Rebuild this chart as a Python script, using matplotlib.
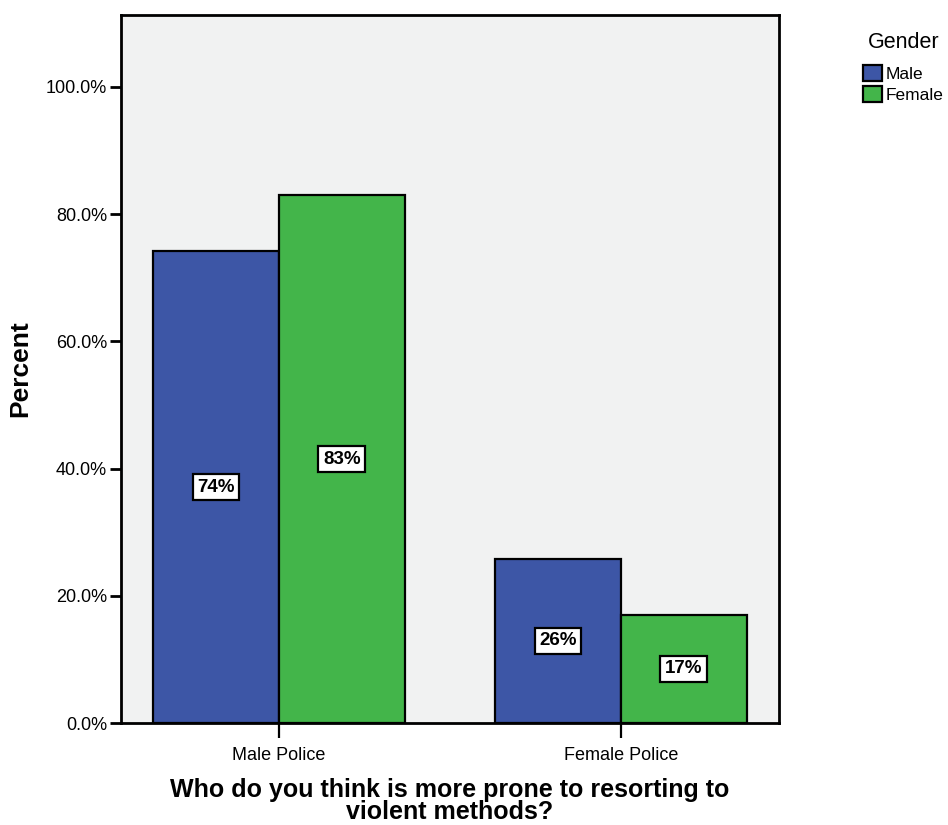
import matplotlib
matplotlib.use('Agg')
import matplotlib.pyplot as plt
import numpy as np
from matplotlib.ticker import FuncFormatter

plt.rcParams['font.family'] = ['Liberation Sans', 'DejaVu Sans']

categories = ['Male Police', 'Female Police']
groups = ['Male', 'Female']
male_pct = [74.2, 25.8]
female_pct = [83.0, 17.0]
bar_labels = {'Male': ['74%', '26%'], 'Female': ['83%', '17%']}
colors = {'Male': '#3D56A6', 'Female': '#43B54A'}

fig = plt.figure(figsize=(9.48, 8.25), dpi=100)
ax = fig.add_axes([0.1276, 0.1236, 0.6941, 0.8582])
ax.set_facecolor('#F1F2F2')

x = np.arange(len(categories))
width = 0.368
for offset, name, vals in [(-width / 2, 'Male', male_pct), (width / 2, 'Female', female_pct)]:
    bars = ax.bar(x + offset, vals, width, color=colors[name], edgecolor='black',
                  linewidth=1.6, label=name, zorder=2)
    for b, lab in zip(bars, bar_labels[name]):
        ax.text(b.get_x() + b.get_width() / 2, b.get_height() / 2, lab,
                ha='center', va='center', fontsize=13.5, fontweight='bold', zorder=3,
                bbox=dict(boxstyle='square,pad=0.25', facecolor='white',
                          edgecolor='black', linewidth=1.6))

ax.set_xlim(-0.462, 1.462)
ax.set_ylim(0, 111.3)
ax.set_yticks([0, 20, 40, 60, 80, 100])
ax.yaxis.set_major_formatter(FuncFormatter(lambda v, p: f'{v:.1f}%'))
ax.set_xticks(x)
ax.set_xticklabels(categories, fontsize=13)
ax.tick_params(axis='y', labelsize=13, length=8, width=2, pad=2)
ax.tick_params(axis='x', length=11, width=1.6, pad=6)
for s in ax.spines.values():
    s.set_linewidth(2)

ax.set_ylabel('Percent', fontsize=19, fontweight='bold', labelpad=10)
ax.set_xlabel('Who do you think is more prone to resorting to\nviolent methods?',
              fontsize=18, fontweight='bold', labelpad=10, linespacing=0.9)

# legend title drawn separately so the gap above the entries matches
fig.text(0.9156, 0.949, 'Gender', fontsize=15.5, ha='left', va='center')
leg = fig.legend(loc='upper left', bbox_to_anchor=(0.9103, 0.921),
                 frameon=False, fontsize=12.5, handlelength=1.1,
                 handleheight=1.0, handletextpad=0.2, labelspacing=0.25,
                 borderaxespad=0, borderpad=0)
for h in leg.legend_handles:
    h.set_linewidth(1.6)

plt.savefig('out.png', dpi=100)
